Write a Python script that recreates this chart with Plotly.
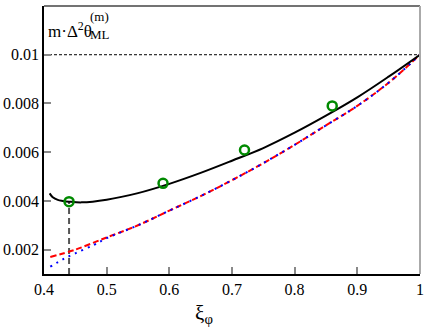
import plotly.graph_objects as go

# black curve
xi_black = [0.409, 0.414, 0.422, 0.430, 0.44, 0.46, 0.50, 0.55, 0.60, 0.65, 0.70,
            0.75, 0.80, 0.85, 0.90, 0.95, 1.00]
v_black = [0.00431, 0.00415, 0.00404, 0.00400, 0.00397, 0.00394, 0.00405, 0.00432,
           0.00470, 0.00515, 0.00565, 0.00617, 0.00680, 0.00750, 0.00825, 0.00910, 0.01000]

# red dashed curve
xi_red = [0.41, 0.45, 0.50, 0.55, 0.60, 0.65, 0.70, 0.75, 0.80, 0.85, 0.90, 0.95, 1.00]
v_red = [0.00170, 0.00200, 0.00250, 0.00300, 0.00360, 0.00420, 0.00485, 0.00555,
         0.00630, 0.00710, 0.00790, 0.00885, 0.01000]

# blue dotted curve
xi_blue = [0.41, 0.43, 0.45, 0.48, 0.50, 0.55, 0.60, 0.65, 0.70, 0.75, 0.80, 0.85,
           0.90, 0.95, 1.00]
v_blue = [0.00130, 0.00160, 0.00185, 0.00220, 0.00247, 0.00300, 0.00360, 0.00420,
          0.00485, 0.00555, 0.00630, 0.00710, 0.00790, 0.00885, 0.01000]

# green markers
xi_pts = [0.44, 0.59, 0.72, 0.86]
v_pts = [0.00397, 0.00472, 0.00609, 0.00790]

x_ticks = [0.4, 0.5, 0.6, 0.7, 0.8, 0.9, 1.0]
x_labels = ["0.4", "0.5", "0.6", "0.7", "0.8", "0.9", "1"]
y_ticks = [0.002, 0.004, 0.006, 0.008, 0.01, 0.012]
y_labels = ["0.002", "0.004", "0.006", "0.008", "0.01", "0.012"]

font = "Liberation Serif"

fig = go.Figure()

# reference lines
fig.add_trace(go.Scatter(x=[0.4, 1.0], y=[0.01, 0.01], mode="lines",
                         line=dict(color="black", width=1, dash="3px,2px"), hoverinfo="skip"))
fig.add_trace(go.Scatter(x=[xi_pts[0], xi_pts[0]], y=[0.001, v_pts[0]], mode="lines",
                         line=dict(color="#555555", width=2, dash="6px,4px"), hoverinfo="skip"))

fig.add_trace(go.Scatter(x=xi_red, y=v_red, mode="lines", line_shape="spline",
                         line=dict(color="#ff0000", width=2, dash="6px,3px")))
fig.add_trace(go.Scatter(x=xi_blue, y=v_blue, mode="lines", line_shape="spline",
                         line=dict(color="#0000ff", width=2, dash="2px,5px")))
fig.add_trace(go.Scatter(x=xi_black, y=v_black, mode="lines", line_shape="spline",
                         line=dict(color="black", width=2)))
fig.add_trace(go.Scatter(x=xi_pts, y=v_pts, mode="markers",
                         marker=dict(symbol="circle-open", size=9, color="#008a00",
                                     line=dict(width=2.5, color="#008a00"))))

# frame: top and right edges
fig.add_shape(type="line", xref="paper", yref="paper", x0=0, x1=1, y0=1, y1=1,
              line=dict(color="#444444", width=1.5))
fig.add_shape(type="line", xref="paper", yref="paper", x0=1, x1=1, y0=0, y1=1,
              line=dict(color="#aaaaaa", width=2))

# y label inside plot
fig.add_annotation(x=0.004, y=0.958, xref="paper", yref="paper", xanchor="left", yanchor="top",
                   text="m·Δ<sup>2</sup>θ", showarrow=False,
                   font=dict(family=font, size=17, color="black"))
fig.add_annotation(x=0.118, y=0.995, xref="paper", yref="paper", xanchor="left", yanchor="top",
                   text="(m)", showarrow=False, font=dict(family=font, size=13, color="black"))
fig.add_annotation(x=0.118, y=0.93, xref="paper", yref="paper", xanchor="left", yanchor="top",
                   text="ML", showarrow=False, font=dict(family=font, size=13, color="black"))

# x axis title
fig.add_annotation(x=0.425, y=-0.095, xref="paper", yref="paper", xanchor="center", yanchor="top",
                   text="ξ<sub>φ</sub>", showarrow=False,
                   font=dict(family=font, size=21, color="black"))

fig.update_layout(
    width=427, height=328,
    margin=dict(l=41, r=3, t=6, b=54),
    paper_bgcolor="white", plot_bgcolor="white",
    showlegend=False,
    font=dict(family=font, size=16, color="black"),
    xaxis=dict(range=[0.4, 1.0001], tickvals=x_ticks, ticktext=x_labels,
               ticks="inside", ticklen=7, tickcolor="#888888", tickwidth=1.5,
               showline=True, linecolor="black", linewidth=1.5, showgrid=False,
               zeroline=False, tickfont=dict(family=font, size=16),
               ticklabeloverflow="allow"),
    yaxis=dict(range=[0.001, 0.012], tickvals=y_ticks, ticktext=y_labels,
               ticks="inside", ticklen=7, tickcolor="#888888", tickwidth=1.5,
               showline=True, linecolor="black", linewidth=1.5, showgrid=False,
               zeroline=False, tickfont=dict(family=font, size=16)),
)

fig.write_html("out.html", config={"displayModeBar": False},
               post_script="document.body.style.margin='0';")
